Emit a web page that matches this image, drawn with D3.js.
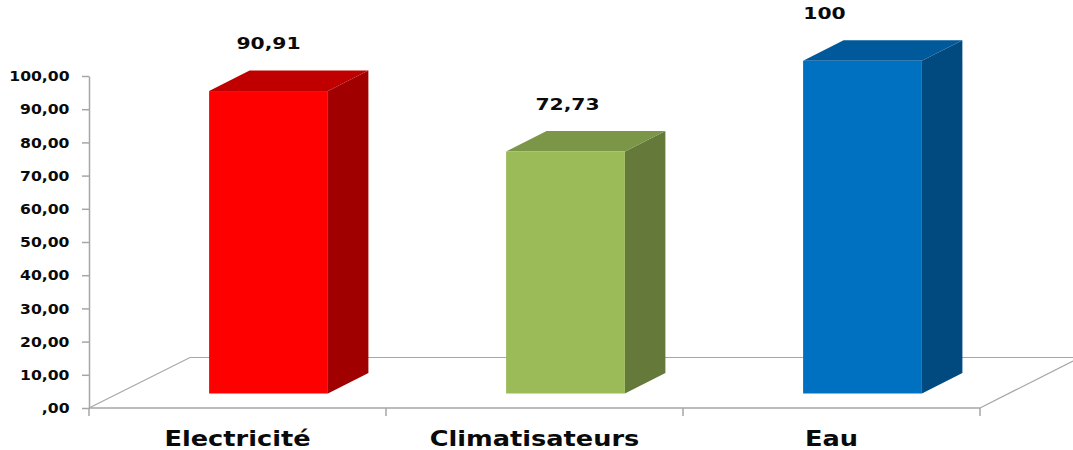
<!DOCTYPE html>
<html><head><meta charset="utf-8">
<script src="https://cdn.jsdelivr.net/npm/d3@7/dist/d3.min.js"></script>
<style>html,body{margin:0;padding:0;background:#fff}svg{display:block}text{font-family:"DejaVu Sans",sans-serif;font-weight:bold;fill:#0a0a0a}</style>
</head><body><svg id="c" width="1073" height="450"></svg>
<script>
const categories = ["Electricité", "Climatisateurs", "Eau"];
const values = [90.91, 72.73, 100];
const valueLabels = ["90,91", "72,73", "100"];
const frontColors = ["#ff0000", "#9bbb59", "#0070c0"];
const topColors = ["#c00000", "#7c9648", "#00599a"];
const sideColors = ["#a00000", "#64793a", "#004a80"];
const yTicks = [0,10,20,30,40,50,60,70,80,90,100];

const svg = d3.select("#c");
const axisX0 = 89, axisX1 = 980, axisBottom = 408, axisTop = 76;
const depthX = 40.5, depthY = -20.5, barBase = 393.5, barShift = 31;
const grey = "#a6a6a6";

const stretch = (sel, k) => sel.each(function(){
  this.setAttribute("textLength", this.getComputedTextLength()*k);
  this.setAttribute("lengthAdjust","spacingAndGlyphs");
});

const yAxisScale = d3.scaleLinear().domain([0,100]).range([axisBottom, axisTop]);
const yBar = d3.scaleLinear().domain([0,100]).range([barBase, barBase-332.7]);
const xBand = d3.scaleBand().domain(categories).range([axisX0, axisX1]).paddingInner(0).paddingOuter(0);
const barW = xBand.bandwidth()*0.4;

// floor
const floor = svg.append("g").attr("fill","none").attr("stroke",grey).attr("stroke-width",1.2);
floor.append("path").attr("d",`M${axisX0},${axisBottom}L190,357.5L1073,357.5`);
floor.append("path").attr("d",`M${axisX1},${axisBottom}L1073,361`);

// y axis
const yG = svg.append("g").attr("transform",`translate(${axisX0},0)`)
  .call(d3.axisLeft(yAxisScale).tickValues(yTicks).tickSize(7).tickSizeOuter(0).tickPadding(0)
    .tickFormat(d => d===0 ? ",00" : d3.format(".2f")(d).replace(".",",")));
yG.select(".domain").attr("stroke",grey).attr("stroke-width",1.5);
yG.selectAll("line").attr("stroke",grey).attr("stroke-width",1.5);
yG.selectAll("text").attr("font-size",14).attr("x",-19.5).attr("dy","0.34em").call(stretch,1.115);

// x axis
const xG = svg.append("g").attr("transform",`translate(0,${axisBottom})`)
  .call(d3.axisBottom(xBand).tickSize(0).tickPadding(0));
xG.select(".domain").attr("stroke",grey).attr("stroke-width",1.5).attr("d",`M${axisX0},0H${axisX1}`);
const xTicks = [0,1,2,3].map(i => axisX0 + i*xBand.step());
xG.selectAll("line.sep").data(xTicks).join("line").attr("class","sep")
  .attr("x1",d=>d).attr("x2",d=>d).attr("y1",0).attr("y2",8).attr("stroke",grey).attr("stroke-width",1.5);
xG.selectAll(".tick text").attr("font-size",21).attr("y",38).attr("dy",0).call(stretch,1.22);

// bars
const bars = svg.append("g").selectAll("g").data(categories).join("g");
const left = (c) => xBand(c) + (xBand.bandwidth()-barW)/2 + barShift;
bars.append("path").attr("fill",(c,i)=>sideColors[i]).attr("d",(c,i)=>{
  const x=left(c)+barW, t=yBar(values[i]), b=barBase;
  return `M${x},${t}l${depthX},${depthY}L${x+depthX},${b+depthY}L${x},${b}Z`;});
bars.append("path").attr("fill",(c,i)=>topColors[i]).attr("d",(c,i)=>{
  const x=left(c), t=yBar(values[i]);
  return `M${x},${t}l${depthX},${depthY}h${barW}l${-depthX},${-depthY}Z`;});
bars.append("rect").attr("fill",(c,i)=>frontColors[i])
  .attr("x",left).attr("width",barW)
  .attr("y",(c,i)=>yBar(values[i])).attr("height",(c,i)=>barBase-yBar(values[i]));

// value labels
const labelNudge = [0,2,-38];
svg.append("g").selectAll("text").data(valueLabels).join("text")
  .attr("text-anchor","middle").attr("font-size",16.5)
  .attr("x",(d,i)=>left(categories[i])+barW/2+labelNudge[i])
  .attr("y",(d,i)=>yBar(values[i])-42)
  .text(d=>d).call(stretch,1.23);
</script></body></html>
